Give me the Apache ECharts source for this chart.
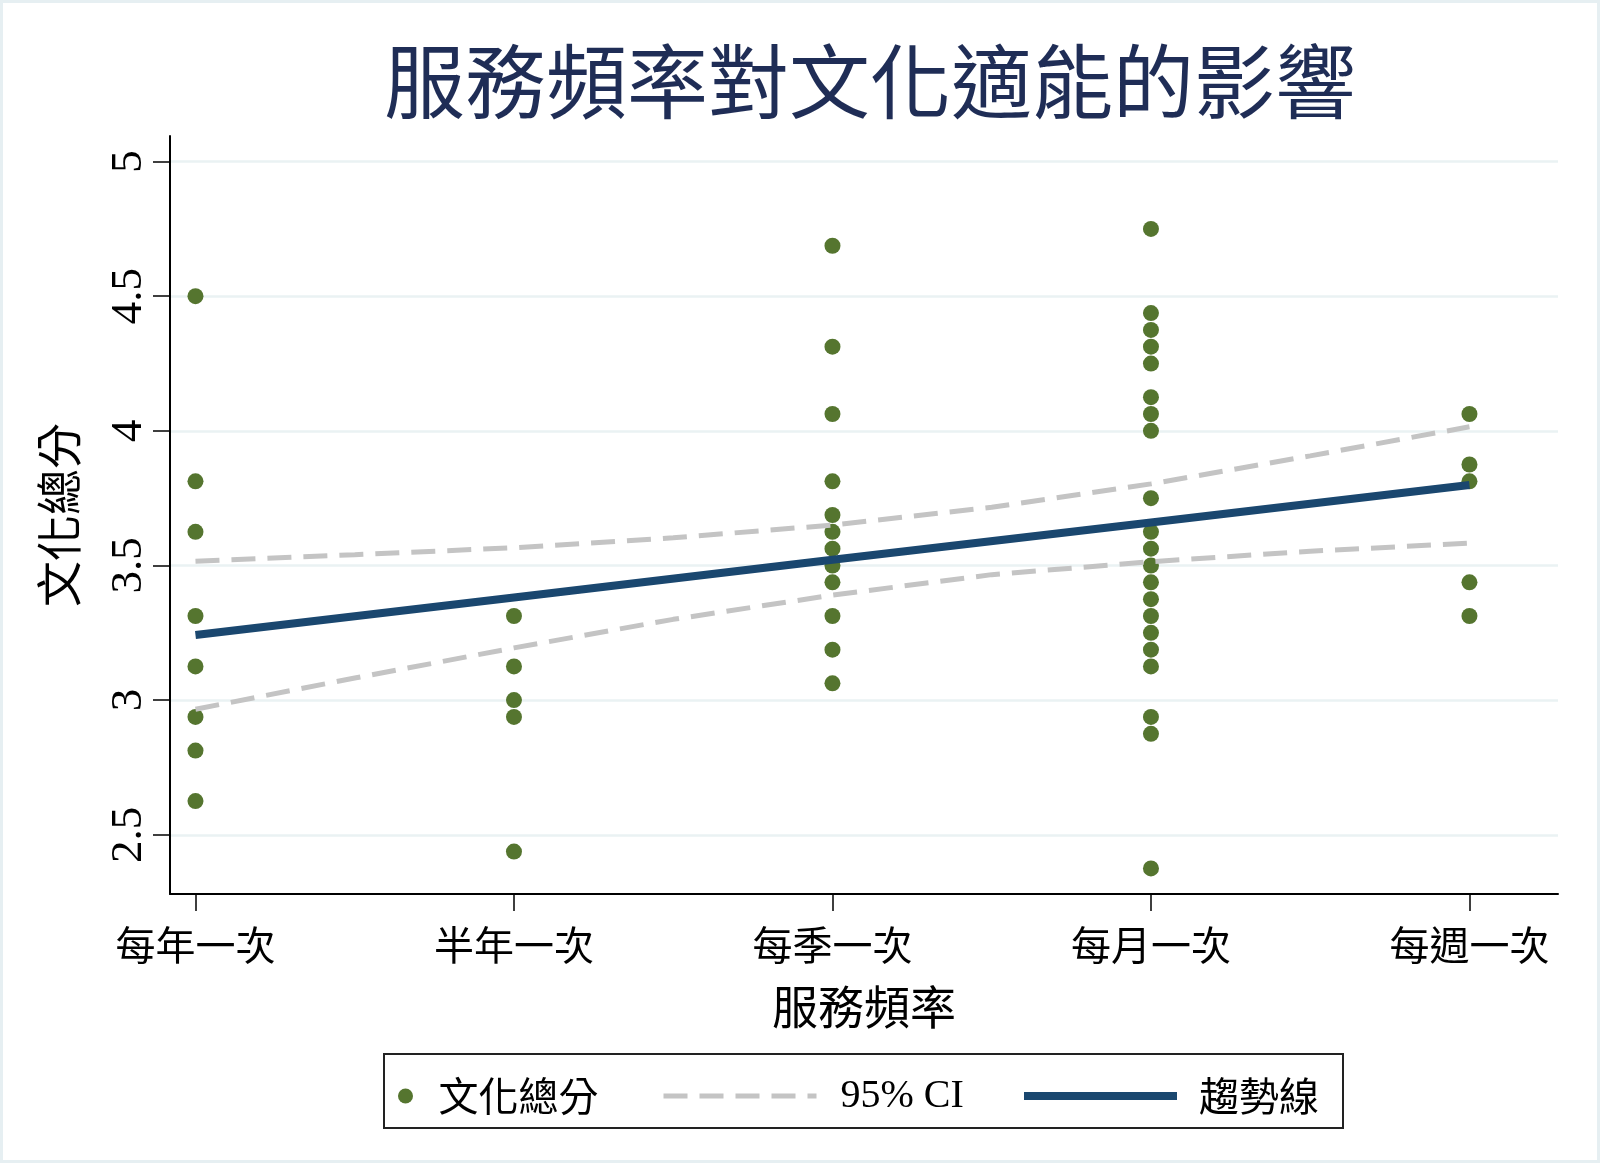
<!DOCTYPE html>
<html>
<head>
<meta charset="utf-8">
<script src="https://cdn.jsdelivr.net/npm/echarts@6/dist/echarts.min.js"></script>
<style>
html,body{margin:0;padding:0;background:#fff;}
#chart{width:1600px;height:1163px;}
</style>
</head>
<body>
<div id="chart"></div>
<script>
// ---- data ----
const categories = ['每年一次', '半年一次', '每季一次', '每月一次', '每週一次'];
const categoryPositions = [0, 1, 2, 3, 4];
const yTickValues = [2.5, 3, 3.5, 4, 4.5, 5];

const scoresYearly = [4.5, 3.8125, 3.625, 3.3125, 3.125, 2.9375, 2.8125, 2.625];
const scoresHalfYear = [3.3125, 3.125, 3.0, 2.9375, 2.4375];
const scoresQuarterly = [4.6875, 4.3125, 4.0625, 3.8125, 3.6875, 3.625, 3.5625, 3.5, 3.4375, 3.3125, 3.1875, 3.0625];
const scoresMonthly = [4.75, 4.4375, 4.375, 4.3125, 4.25, 4.125, 4.0625, 4.0, 3.75, 3.625, 3.5625, 3.5, 3.4375, 3.375, 3.3125, 3.25, 3.1875, 3.125, 2.9375, 2.875, 2.375];
const scoresWeekly = [4.0625, 3.875, 3.8125, 3.4375, 3.3125];

// fitted trend line, read at each category
const trendValues = [3.242, 3.381, 3.521, 3.660, 3.799];
// 95% CI band at these x positions
const ciPositions = [0, 0.5, 1, 1.5, 2, 2.5, 3, 3.5, 4];
const ciUpperValues = [3.516, 3.540, 3.566, 3.603, 3.650, 3.716, 3.803, 3.907, 4.015];
const ciLowerValues = [2.966, 3.082, 3.194, 3.300, 3.390, 3.466, 3.514, 3.553, 3.583];

// ---- build series data ----
const scoreGroups = [scoresYearly, scoresHalfYear, scoresQuarterly, scoresMonthly, scoresWeekly];
const scatterData = [];
scoreGroups.forEach((g, i) => g.forEach(v => scatterData.push([categoryPositions[i], v])));
const pairAt = (xs, ys) => ys.map((v, i) => [xs[i], v]);

const CJK = '"Noto Sans CJK TC", "Noto Sans CJK SC", sans-serif';
const SERIF = '"Liberation Serif", "Noto Sans CJK TC", serif';

const ciLine = {color: '#c4c4c4', width: 5, type: [24, 12]};
const trendLine = {color: '#1a476f', width: 8};

const chart = echarts.init(document.getElementById('chart'), null, {renderer: 'canvas'});
const option = {
  backgroundColor: '#ffffff',
  animation: false,
  title: {
    text: '服務頻率對文化適能的影響',
    left: 865,
    textAlign: 'center',
    top: 36,
    textStyle: {fontFamily: CJK, fontSize: 81, fontWeight: 'normal', color: '#1f2d56'}
  },
  graphic: [
    {type: 'rect', silent: true, z: -10,
     shape: {x: 1.5, y: 1.5, width: 1597, height: 1160},
     style: {fill: 'none', stroke: '#e6eff2', lineWidth: 3}},
    {type: 'rect', silent: true, z: -5,
     shape: {x: 384, y: 1054, width: 959, height: 74},
     style: {fill: '#ffffff', stroke: '#222222', lineWidth: 2}}
  ],
  legend: [
    {data: [{name: '文化總分', icon: 'circle'}], left: 393, top: 1071,
     itemWidth: 56, itemHeight: 15,
     itemStyle: {color: '#55752f', opacity: 1},
     textStyle: {fontFamily: CJK, fontSize: 40, color: '#000'}},
    {data: ['95% CI'], left: 656, top: 1071,
     itemWidth: 153, itemHeight: 14,
     itemStyle: {opacity: 0},
     lineStyle: ciLine,
     textStyle: {fontFamily: SERIF, fontSize: 40, color: '#000', padding: [0, 0, 0, 19]}},
    {data: ['趨勢線'], left: 1015, top: 1071,
     itemWidth: 153, itemHeight: 14,
     itemStyle: {opacity: 0},
     lineStyle: trendLine,
     textStyle: {fontFamily: CJK, fontSize: 40, color: '#000', padding: [0, 0, 0, 17]}}
  ],
  grid: {left: 170, right: 42, top: 136, bottom: 269, outerBoundsMode: 'none', containLabel: false},
  xAxis: {
    type: 'value',
    min: -0.08, max: 4.278,
    name: '服務頻率',
    nameLocation: 'middle',
    nameGap: 90,
    nameTextStyle: {fontFamily: CJK, fontSize: 46, color: '#000'},
    axisLine: {show: true, onZero: false, lineStyle: {color: '#000', width: 2}},
    axisTick: {show: true, length: 17, customValues: categoryPositions, lineStyle: {color: '#000', width: 1.5}},
    axisLabel: {
      customValues: categoryPositions,
      margin: 31,
      fontFamily: CJK, fontSize: 40, color: '#000',
      formatter: v => categories[Math.round(v)]
    },
    splitLine: {show: false}
  },
  yAxis: {
    type: 'value',
    min: 2.28, max: 5.095,
    name: '文化總分',
    nameLocation: 'middle',
    nameGap: 88,
    nameRotate: 90,
    nameTextStyle: {fontFamily: CJK, fontSize: 46, color: '#000'},
    axisLine: {show: true, onZero: false, lineStyle: {color: '#000', width: 2}},
    axisTick: {show: true, length: 17, customValues: yTickValues, lineStyle: {color: '#000', width: 1.5}},
    axisLabel: {
      customValues: yTickValues,
      rotate: 90,
      margin: 18,
      fontFamily: 'Liberation Serif', fontSize: 45, color: '#000'
    },
    splitLine: {show: true, lineStyle: {color: '#eaf2f3', width: 2.5}}
  },
  series: [
    {name: '文化總分', type: 'scatter', data: scatterData, symbol: 'circle', symbolSize: 16,
     itemStyle: {color: '#55752f', opacity: 1}, z: 2},
    {name: '95% CI', type: 'line', data: pairAt(ciPositions, ciUpperValues), showSymbol: false, symbol: 'none',
     smooth: false, z: 3,
     lineStyle: ciLine, itemStyle: {color: '#c4c4c4'}},
    {name: '95% CI', type: 'line', data: pairAt(ciPositions, ciLowerValues), showSymbol: false, symbol: 'none',
     smooth: false, z: 3,
     lineStyle: ciLine, itemStyle: {color: '#c4c4c4'}},
    {name: '趨勢線', type: 'line', data: pairAt(categoryPositions, trendValues), showSymbol: false, symbol: 'none', z: 4,
     lineStyle: trendLine, itemStyle: {color: '#1a476f'}}
  ]
};
chart.setOption(option);
</script>
</body>
</html>
